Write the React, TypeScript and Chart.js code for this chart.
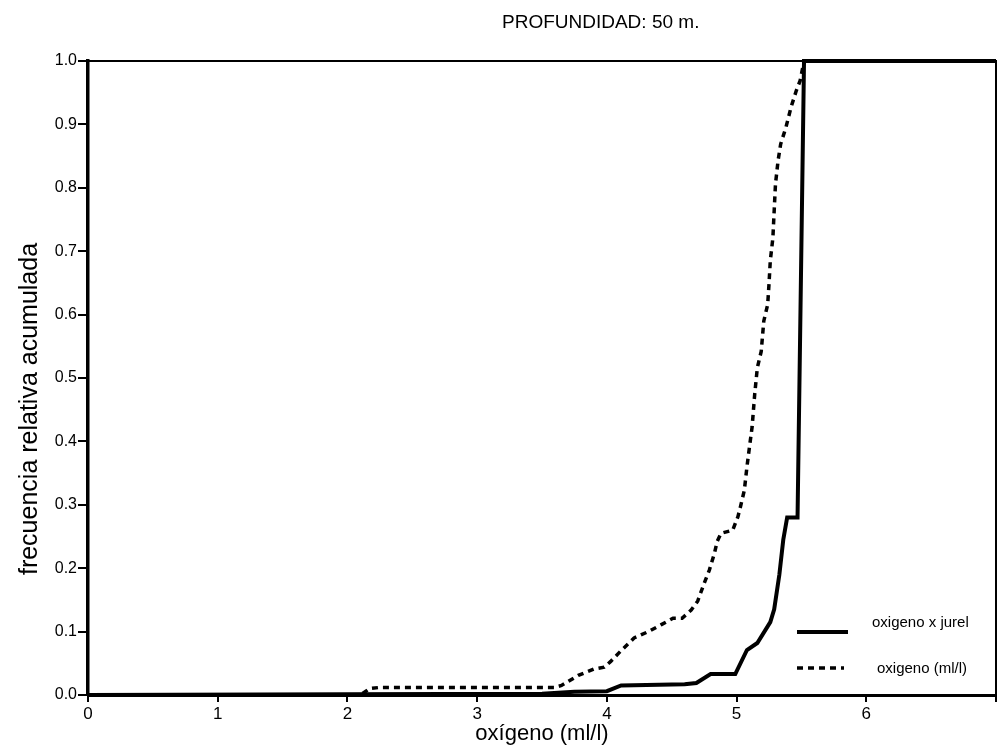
import React, { useEffect, useRef } from "react";
import { Chart, registerables } from "chart.js";

Chart.register(...registerables);

// ---- data ----
const titleText = "PROFUNDIDAD: 50 m.";
const xTitle = "oxígeno (ml/l)";
const yTitle = "frecuencia relativa acumulada";
const seriesNames = ["oxigeno x jurel", "oxigeno (ml/l)"];

const xTickValues = [0, 1, 2, 3, 4, 5, 6, 7];
const xTickLabels = ["0", "1", "2", "3", "4", "5", "6", ""];
const yTickValues = [0, 0.1, 0.2, 0.3, 0.4, 0.5, 0.6, 0.7, 0.8, 0.9, 1.0];

const jurelX = [0, 2.0, 3.5, 3.75, 4.0, 4.11, 4.6, 4.69, 4.8, 4.99, 5.08, 5.16, 5.26, 5.29, 5.33, 5.36, 5.39, 5.47, 5.52, 7];
const jurelY = [0, 0.001, 0.002, 0.005, 0.006, 0.015, 0.017, 0.019, 0.033, 0.033, 0.071, 0.082, 0.115, 0.135, 0.19, 0.245, 0.28, 0.28, 1.0, 1.0];

const oxX = [0, 2.1, 2.17, 2.25, 3.6, 3.65, 3.78, 3.9, 3.98, 4.03, 4.11, 4.21, 4.32, 4.42, 4.51, 4.58, 4.65, 4.7, 4.75, 4.79, 4.83, 4.85, 4.88, 4.97, 5.01, 5.03, 5.06, 5.08, 5.1, 5.12, 5.14, 5.16, 5.19, 5.21, 5.24, 5.25, 5.26, 5.28, 5.29, 5.3, 5.32, 5.34, 5.38, 5.42, 5.46, 5.49, 5.52, 7];
const oxY = [0, 0, 0.01, 0.012, 0.012, 0.015, 0.031, 0.041, 0.044, 0.053, 0.07, 0.09, 0.1, 0.111, 0.121, 0.121, 0.134, 0.148, 0.176, 0.197, 0.224, 0.242, 0.255, 0.26, 0.281, 0.297, 0.323, 0.36, 0.392, 0.423, 0.475, 0.516, 0.542, 0.59, 0.616, 0.648, 0.685, 0.721, 0.764, 0.806, 0.843, 0.869, 0.895, 0.927, 0.953, 0.969, 1.0, 1.0];

const FONT = '"Liberation Sans", Arial, Helvetica, sans-serif';
const SOLID_W = 4;
const DASH_W = 3.5;
const DASH = [6, 5];

const decorPlugin = {
  id: "decor",
  afterDraw(chart: any) {
    const { ctx, chartArea: a } = chart;
    ctx.save();
    // top and right frame
    ctx.strokeStyle = "#000";
    ctx.lineWidth = 2;
    ctx.beginPath();
    ctx.moveTo(a.left, a.top);
    ctx.lineTo(a.right, a.top);
    ctx.lineTo(a.right, a.bottom);
    ctx.stroke();

    ctx.fillStyle = "#000";
    ctx.textBaseline = "middle";
    // main title
    ctx.font = `19px ${FONT}`;
    ctx.textAlign = "left";
    ctx.fillText(titleText, 502, 23);
    // x axis title
    ctx.font = `22px ${FONT}`;
    ctx.textAlign = "center";
    ctx.fillText(xTitle, (a.left + a.right) / 2, 734);
    // y axis title
    ctx.save();
    ctx.translate(30, 409);
    ctx.rotate(-Math.PI / 2);
    ctx.font = `25px ${FONT}`;
    ctx.fillText(yTitle, 0, 0);
    ctx.restore();

    // legend
    ctx.lineWidth = SOLID_W;
    ctx.setLineDash([]);
    ctx.beginPath();
    ctx.moveTo(797, 632);
    ctx.lineTo(848, 632);
    ctx.stroke();
    ctx.lineWidth = DASH_W;
    ctx.setLineDash(DASH);
    ctx.beginPath();
    ctx.moveTo(797, 668);
    ctx.lineTo(844, 668);
    ctx.stroke();
    ctx.setLineDash([]);
    ctx.font = `15px ${FONT}`;
    ctx.textAlign = "left";
    ctx.fillText(seriesNames[0], 872, 623);
    ctx.fillText(seriesNames[1], 877, 669);
    ctx.restore();
  },
};

export default function App() {
  const ref = useRef<HTMLCanvasElement | null>(null);

  useEffect(() => {
    if (!ref.current) return;
    const chart = new Chart(ref.current, {
      type: "line",
      data: {
        datasets: [
          {
            label: seriesNames[0],
            data: jurelX.map((x, i) => ({ x, y: jurelY[i] })),
            borderColor: "#000",
            borderWidth: SOLID_W,
            pointRadius: 0,
            tension: 0,
            fill: false,
            clip: false as any,
          },
          {
            label: seriesNames[1],
            data: oxX.map((x, i) => ({ x, y: oxY[i] })),
            borderColor: "#000",
            borderWidth: DASH_W,
            borderDash: DASH,
            pointRadius: 0,
            tension: 0,
            fill: false,
            clip: false as any,
          },
        ],
      },
      options: {
        responsive: false,
        animation: false,
        devicePixelRatio: 1,
        layout: { padding: { top: 61, right: 2, left: 0, bottom: 0 } },
        plugins: {
          legend: { display: false },
          title: { display: false },
          tooltip: { enabled: false },
        },
        scales: {
          x: {
            type: "linear",
            min: 0,
            max: 7,
            afterBuildTicks: (scale: any) => {
              scale.ticks = xTickValues.map((v) => ({ value: v }));
            },
            afterFit: (scale: any) => {
              scale.height = 54;
            },
            ticks: {
              color: "#000",
              font: { family: FONT, size: 17 },
              padding: 2,
              maxRotation: 0,
              autoSkip: false,
              callback: (v: any) => {
                const i = xTickValues.indexOf(Number(v));
                return i >= 0 ? xTickLabels[i] : "";
              },
            },
            grid: {
              display: true,
              drawOnChartArea: false,
              drawTicks: true,
              tickLength: 7,
              color: "#000",
              lineWidth: 2,
            },
            border: { display: true, color: "#000", width: 3 },
          },
          y: {
            type: "linear",
            min: 0,
            max: 1,
            afterBuildTicks: (scale: any) => {
              scale.ticks = yTickValues.map((v) => ({ value: v }));
            },
            afterFit: (scale: any) => {
              scale.width = 88;
            },
            ticks: {
              color: "#000",
              font: { family: FONT, size: 16 },
              padding: 1,
              autoSkip: false,
              callback: (v: any) => Number(v).toFixed(1),
            },
            grid: {
              display: true,
              drawOnChartArea: false,
              drawTicks: true,
              tickLength: 10,
              color: "#000",
              lineWidth: 2,
            },
            border: { display: true, color: "#000", width: 3.5 },
          },
        },
      },
      plugins: [decorPlugin],
    });
    return () => chart.destroy();
  }, []);

  return (
    <canvas
      ref={ref}
      width={998}
      height={749}
      style={{ position: "absolute", left: 0, top: 0, width: 998, height: 749, background: "#fff" }}
    />
  );
}
